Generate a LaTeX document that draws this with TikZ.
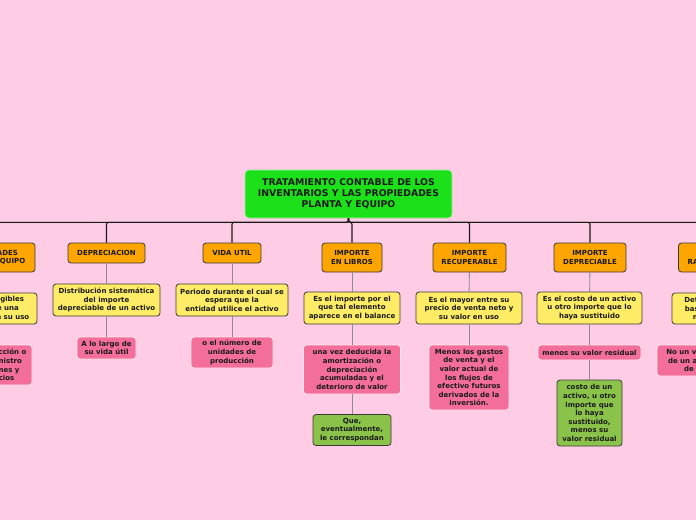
\documentclass[tikz,border=0pt]{standalone}
\usepackage{fontspec}
\setmainfont{DejaVu Sans}
\definecolor{bgpink}{HTML}{FFCCE5}
\definecolor{rootgreen}{HTML}{1CE01A}
\definecolor{orangebox}{HTML}{FFA500}
\definecolor{yellowbox}{HTML}{FFEC66}
\definecolor{pinkbox}{HTML}{F46E9B}
\definecolor{olivebox}{HTML}{8BC34A}
\definecolor{txt}{HTML}{1A1A1A}
\definecolor{edge}{HTML}{3A3A3A}
\tikzset{
  basebox/.style={rounded corners=3pt, align=center, inner sep=0pt, text=txt,
    font=\fontsize{7}{8.6}\selectfont\bfseries},
  rootbox/.style={basebox, rounded corners=4pt, fill=rootgreen, draw=rootgreen!45!white, line width=0.6pt,
    font=\fontsize{9.3}{11.2}\selectfont\bfseries},
  obox/.style={basebox, fill=orangebox, draw=edge, line width=0.8pt},
  ybox/.style={basebox, fill=yellowbox, draw=edge, line width=0.8pt},
  pbox/.style={basebox, fill=pinkbox, draw=white!85!pinkbox, line width=0.8pt},
  gbox/.style={basebox, fill=olivebox, draw=edge, line width=0.8pt},
  buslink/.style={draw=black!90, line width=1.1pt, rounded corners=2pt},
  sublink/.style={draw=black!45, line width=0.9pt}
}
\begin{document}
\begin{tikzpicture}[x=1pt,y=-1pt]
\clip (0,0) rectangle (696,520);
\fill[bgpink] (0,0) rectangle (696,520);

% root
\node[rootbox, minimum width=207pt, minimum height=48pt] (root) at (348.5,194)
  {TRATAMIENTO CONTABLE DE LOS\\INVENTARIOS Y LAS PROPIEDADES\\PLANTA Y EQUIPO};

% level 1 (orange)
\node[obox, minimum width=90pt, minimum height=29pt] (o1) at (-10,257.5) {PROPIEDADES\\PLANTA Y EQUIPO};
\node[obox, minimum width=77pt, minimum height=20pt] (o2) at (106.5,253) {DEPRECIACION};
\node[obox, minimum width=58pt, minimum height=20pt] (o3) at (232,253) {VIDA UTIL};
\node[obox, minimum width=60pt, minimum height=29pt] (o4) at (352,257.5) {IMPORTE\\EN LIBROS};
\node[obox, minimum width=73pt, minimum height=29pt] (o5) at (469.5,257.5) {IMPORTE\\RECUPERABLE};
\node[obox, minimum width=72pt, minimum height=29pt] (o6) at (590,257.5) {IMPORTE\\DEPRECIABLE};
\node[obox, minimum width=66pt, minimum height=29pt] (o7) at (711.5,257.5) {VALOR\\RAZONABLE};

% level 2 (yellow)
\node[ybox, minimum width=94pt, minimum height=31pt] (y1) at (-10,308.5) {Activos tangibles\\que posee una\\entidad para su uso};
\node[ybox, minimum width=107pt, minimum height=32pt] (y2) at (106.5,300) {Distribución sistemática\\del importe\\depreciable de un activo};
\node[ybox, minimum width=112pt, minimum height=32pt] (y3) at (232,300) {Periodo durante el cual se\\espera que la\\entidad utilice el activo};
\node[ybox, minimum width=96pt, minimum height=32pt] (y4) at (352,308) {Es el importe por el\\que tal elemento\\aparece en el balance};
\node[ybox, minimum width=106pt, minimum height=32pt] (y5) at (469,308) {Es el mayor entre su\\precio de venta neto y\\su valor en uso};
\node[ybox, minimum width=105pt, minimum height=32pt] (y6) at (589.5,308) {Es el costo de un activo\\u otro importe que lo\\haya sustituido};
\node[ybox, minimum width=76pt, minimum height=31pt] (y7) at (710,308.5) {Determinado\\basado en el\\mercado};

% level 3 (pink)
\node[pbox, minimum width=84pt, minimum height=40pt] (p1) at (-10,365) {en la producción o\\en el suministro\\de los bienes y\\los servicios};
\node[pbox, minimum width=59pt, minimum height=22pt] (p2) at (106.5,348) {A lo largo de\\su vida útil};
\node[pbox, minimum width=82pt, minimum height=31pt] (p3) at (232,352.5) {o el número de\\unidades de\\producción};
\node[pbox, minimum width=97pt, minimum height=49pt] (p4) at (352,369.5) {una vez deducida la\\amortización o\\depreciación\\acumuladas y el\\deterioro de valor};
\node[pbox, minimum width=80pt, minimum height=65pt] (p5) at (469,377.5) {Menos los gastos\\de venta y el\\valor actual de\\los flujos de\\efectivo futuros\\derivados de la\\inversión.};
\node[pbox, minimum width=103pt, minimum height=15pt] (p6) at (589.5,352.5) {menos su valor residual};
\node[pbox, minimum width=106pt, minimum height=31pt] (p7) at (710,360.5) {No un valor específico\\de un activo o pasivo\\de la entidad};

% level 4 (green)
\node[gbox, minimum width=78pt, minimum height=31pt] (g4) at (352,430) {Que,\\eventualmente,\\le correspondan};
\node[gbox, minimum width=65pt, minimum height=66pt] (g6) at (589.5,413) {costo de un\\activo, u otro\\importe que\\lo haya\\sustituido,\\menos su\\valor residual};

% bus connectors
\foreach \o in {o1,o2,o3,o4,o5,o6,o7}
  \draw[buslink] (root.south) -- ++(0,4) -| (\o.north);

% level connectors
\draw[sublink] (o1) -- (y1); \draw[sublink] (y1) -- (p1);
\draw[sublink] (o2) -- (y2); \draw[sublink] (y2) -- (p2);
\draw[sublink] (o3) -- (y3); \draw[sublink] (y3) -- (p3);
\draw[sublink] (o4) -- (y4); \draw[sublink] (y4) -- (p4); \draw[sublink] (p4) -- (g4);
\draw[sublink] (o5) -- (y5); \draw[sublink] (y5) -- (p5);
\draw[sublink] (o6) -- (y6); \draw[sublink] (y6) -- (p6); \draw[sublink] (p6) -- (g6);
\draw[sublink] (o7) -- (y7); \draw[sublink] (y7) -- (p7);
\end{tikzpicture}
\end{document}
